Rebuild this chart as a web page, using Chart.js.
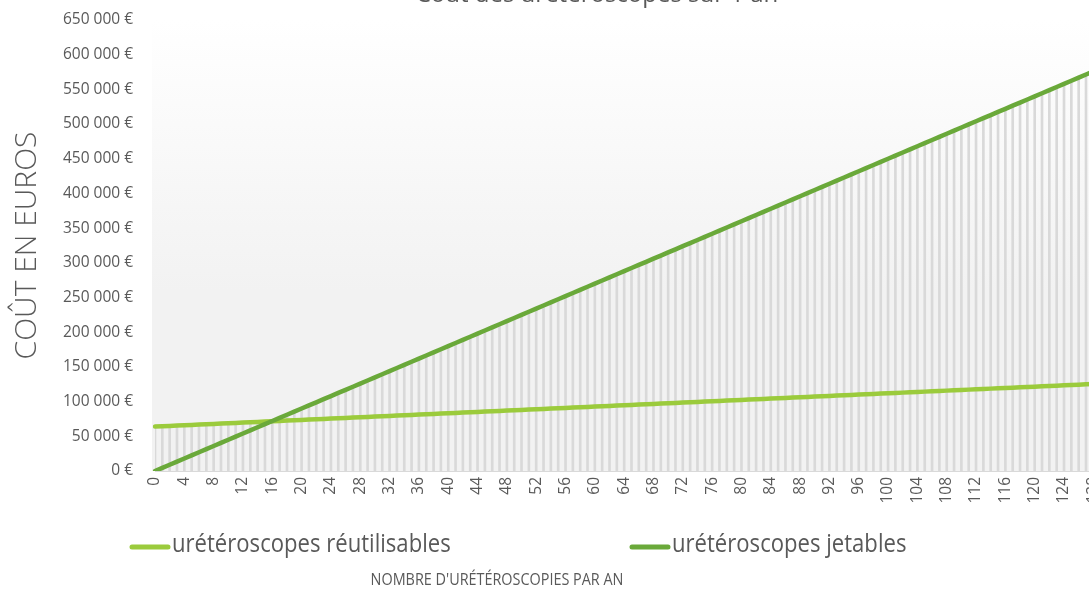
<!DOCTYPE html>
<html>
<head>
<meta charset="utf-8">
<title>Coût des urétéroscopes</title>
<script src="https://cdn.jsdelivr.net/npm/chart.js@4.4.0/dist/chart.umd.min.js"></script>
<style>
  html, body { margin: 0; padding: 0; background: #fff; overflow: hidden; }
  #wrap { position: absolute; left: 0; top: 0; width: 1119px; height: 597px; }
</style>
</head>
<body>
<div id="wrap"><canvas id="costChart" width="1119" height="597"></canvas></div>
<script>
/* ------------------------------
   DATA
--------------------------------*/

// nombre d'urétéroscopies par an (axe des catégories)
const procedures = [
    0, 1, 2, 3, 4, 5, 6, 7, 8, 9,
    10, 11, 12, 13, 14, 15, 16, 17, 18, 19,
    20, 21, 22, 23, 24, 25, 26, 27, 28, 29,
    30, 31, 32, 33, 34, 35, 36, 37, 38, 39,
    40, 41, 42, 43, 44, 45, 46, 47, 48, 49,
    50, 51, 52, 53, 54, 55, 56, 57, 58, 59,
    60, 61, 62, 63, 64, 65, 66, 67, 68, 69,
    70, 71, 72, 73, 74, 75, 76, 77, 78, 79,
    80, 81, 82, 83, 84, 85, 86, 87, 88, 89,
    90, 91, 92, 93, 94, 95, 96, 97, 98, 99,
    100, 101, 102, 103, 104, 105, 106, 107, 108, 109,
    110, 111, 112, 113, 114, 115, 116, 117, 118, 119,
    120, 121, 122, 123, 124, 125, 126, 127, 128, 129,
    130
];

// coût annuel, urétéroscopes réutilisables (€)
const reusableCost = [
    64000, 64480, 64960, 65440, 65920, 66400, 66880, 67360, 67840, 68320,
    68800, 69280, 69760, 70240, 70720, 71200, 71680, 72160, 72640, 73120,
    73600, 74080, 74560, 75040, 75520, 76000, 76480, 76960, 77440, 77920,
    78400, 78880, 79360, 79840, 80320, 80800, 81280, 81760, 82240, 82720,
    83200, 83680, 84160, 84640, 85120, 85600, 86080, 86560, 87040, 87520,
    88000, 88480, 88960, 89440, 89920, 90400, 90880, 91360, 91840, 92320,
    92800, 93280, 93760, 94240, 94720, 95200, 95680, 96160, 96640, 97120,
    97600, 98080, 98560, 99040, 99520, 100000, 100480, 100960, 101440, 101920,
    102400, 102880, 103360, 103840, 104320, 104800, 105280, 105760, 106240, 106720,
    107200, 107680, 108160, 108640, 109120, 109600, 110080, 110560, 111040, 111520,
    112000, 112480, 112960, 113440, 113920, 114400, 114880, 115360, 115840, 116320,
    116800, 117280, 117760, 118240, 118720, 119200, 119680, 120160, 120640, 121120,
    121600, 122080, 122560, 123040, 123520, 124000, 124480, 124960, 125440, 125920,
    126400
];

// coût annuel, urétéroscopes jetables (€)
const disposableCost = [
    0, 4500, 9000, 13500, 18000, 22500, 27000, 31500, 36000, 40500,
    45000, 49500, 54000, 58500, 63000, 67500, 72000, 76500, 81000, 85500,
    90000, 94500, 99000, 103500, 108000, 112500, 117000, 121500, 126000, 130500,
    135000, 139500, 144000, 148500, 153000, 157500, 162000, 166500, 171000, 175500,
    180000, 184500, 189000, 193500, 198000, 202500, 207000, 211500, 216000, 220500,
    225000, 229500, 234000, 238500, 243000, 247500, 252000, 256500, 261000, 265500,
    270000, 274500, 279000, 283500, 288000, 292500, 297000, 301500, 306000, 310500,
    315000, 319500, 324000, 328500, 333000, 337500, 342000, 346500, 351000, 355500,
    360000, 364500, 369000, 373500, 378000, 382500, 387000, 391500, 396000, 400500,
    405000, 409500, 414000, 418500, 423000, 427500, 432000, 436500, 441000, 445500,
    450000, 454500, 459000, 463500, 468000, 472500, 477000, 481500, 486000, 490500,
    495000, 499500, 504000, 508500, 513000, 517500, 522000, 526500, 531000, 535500,
    540000, 544500, 549000, 553500, 558000, 562500, 567000, 571500, 576000, 580500,
    585000
];

// graduations de l'axe des coûts
const costTicks = [0, 50000, 100000, 150000, 200000, 250000, 300000,
                   350000, 400000, 450000, 500000, 550000, 600000, 650000];

const seriesNames = ["urétéroscopes réutilisables", "urétéroscopes jetables"];
const chartTitle = "Coût des urétéroscopes sur 1 an";
const xTitle = "NOMBRE D'URÉTÉROSCOPIES PAR AN";
const yTitle = "COÛT EN EUROS";

// lignes de projection : du zéro jusqu'à la série la plus haute
const dropLines = reusableCost.map((v, i) => Math.max(v, disposableCost[i]));

/* ------------------------------
   STYLE
--------------------------------*/

const GREY_TEXT = "#595959";
const FONT = "'Open Sans', sans-serif";
const LIGHT_GREEN = "#9BCB3C";
const DARK_GREEN = "#6AA93A";

function euro(v) {
    return String(v).replace(/\B(?=(\d{3})+(?!\d))/g, " ") + " €";
}

// texte un peu resserré (aspect Calibri)
function narrowText(ctx, text, x, y, squeeze) {
    ctx.save();
    ctx.translate(x, y);
    ctx.scale(squeeze, 1);
    ctx.fillText(text, 0, 0);
    ctx.restore();
}

/* ------------------------------
   BACKGROUND + TEXTS + LEGEND
--------------------------------*/

const decorPlugin = {
    id: "decor",
    beforeDraw(chart) {
        const { ctx, chartArea: a } = chart;
        ctx.save();
        ctx.fillStyle = "#fff";
        ctx.fillRect(0, 0, chart.width, chart.height);
        const g = ctx.createLinearGradient(0, a.top, 0, a.bottom);
        g.addColorStop(0, "#ffffff");
        g.addColorStop(0.6, "#f2f2f2");
        g.addColorStop(1, "#f2f2f2");
        ctx.fillStyle = g;
        ctx.fillRect(a.left - 3, a.top, a.right - a.left + 3, a.bottom - a.top);
        ctx.restore();
    },
    afterDraw(chart) {
        const ctx = chart.ctx;
        ctx.save();
        ctx.fillStyle = GREY_TEXT;

        // titre (coupé en haut de l'image)
        ctx.textAlign = "center";
        ctx.textBaseline = "alphabetic";
        ctx.font = "24px " + FONT;
        ctx.fillText(chartTitle, 597, 2);

        // légende
        ctx.textAlign = "left";
        ctx.textBaseline = "middle";
        ctx.font = "26px " + FONT;
        [130, 630].forEach((x, i) => {
            const ds = chart.data.datasets[i];
            ctx.strokeStyle = ds.borderColor;
            ctx.lineWidth = 5;
            ctx.lineCap = "round";
            ctx.beginPath();
            ctx.moveTo(x + 2, 547);
            ctx.lineTo(x + 38, 547);
            ctx.stroke();
            narrowText(ctx, ds.label, x + 42, 545, 0.85);
        });

        // titre de l'axe horizontal
        ctx.textAlign = "center";
        ctx.font = "16px " + FONT;
        narrowText(ctx, xTitle, 497, 580, 0.9);
        ctx.restore();
    }
};

/* ------------------------------
   CHART
--------------------------------*/

const costCtx = document.getElementById("costChart");

const costChart = new Chart(costCtx, {
    type: "bar",
    data: {
        labels: procedures,
        datasets: [{
            type: "line",
            label: seriesNames[0],
            data: reusableCost,
            borderColor: LIGHT_GREEN,
            borderWidth: 4.5,
            borderCapStyle: "round",
            pointRadius: 0,
            order: 2
        }, {
            type: "line",
            label: seriesNames[1],
            data: disposableCost,
            borderColor: DARK_GREEN,
            borderWidth: 4.5,
            borderCapStyle: "round",
            pointRadius: 0,
            order: 1
        }, {
            type: "bar",
            label: "drop",
            data: dropLines,
            backgroundColor: "#d9d9d9",
            barThickness: 2,
            order: 3
        }]
    },
    options: {
        responsive: false,
        animation: false,
        layout: { padding: { left: 0, top: 20, right: 11, bottom: 76 } },
        plugins: {
            legend: { display: false },
            tooltip: { enabled: false }
        },
        scales: {
            x: {
                offset: false,
                grid: { display: false, drawTicks: false },
                border: { display: true, color: "#d9d9d9", width: 1 },
                ticks: {
                    autoSkip: false,
                    minRotation: 90,
                    maxRotation: 90,
                    padding: 6,
                    color: GREY_TEXT,
                    font: { family: "Open Sans", size: 15.5 },
                    callback: function (v, i) {
                        return i % 4 === 0 ? this.getLabelForValue(v) : null;
                    }
                },
                afterFit: s => {
                    s.height = 50;
                    s.paddingLeft = 0;
                    s.paddingRight = 0;
                }
            },
            y: {
                min: 0,
                max: 650000,
                grid: { display: false, drawTicks: false },
                border: { display: false },
                afterBuildTicks: s => { s.ticks = costTicks.map(v => ({ value: v })); },
                ticks: {
                    padding: 22,
                    color: GREY_TEXT,
                    font: { family: "Open Sans", size: 15.5 },
                    callback: v => euro(v)
                },
                title: {
                    display: true,
                    text: yTitle,
                    color: GREY_TEXT,
                    font: { family: "Open Sans", size: 30, weight: "300" },
                    padding: { top: 9, bottom: 0 }
                },
                afterFit: s => {
                    s.width = 155;
                    s.paddingTop = 0;
                    s.paddingBottom = 0;
                }
            }
        }
    },
    plugins: [decorPlugin]
});
</script>
</body>
</html>
